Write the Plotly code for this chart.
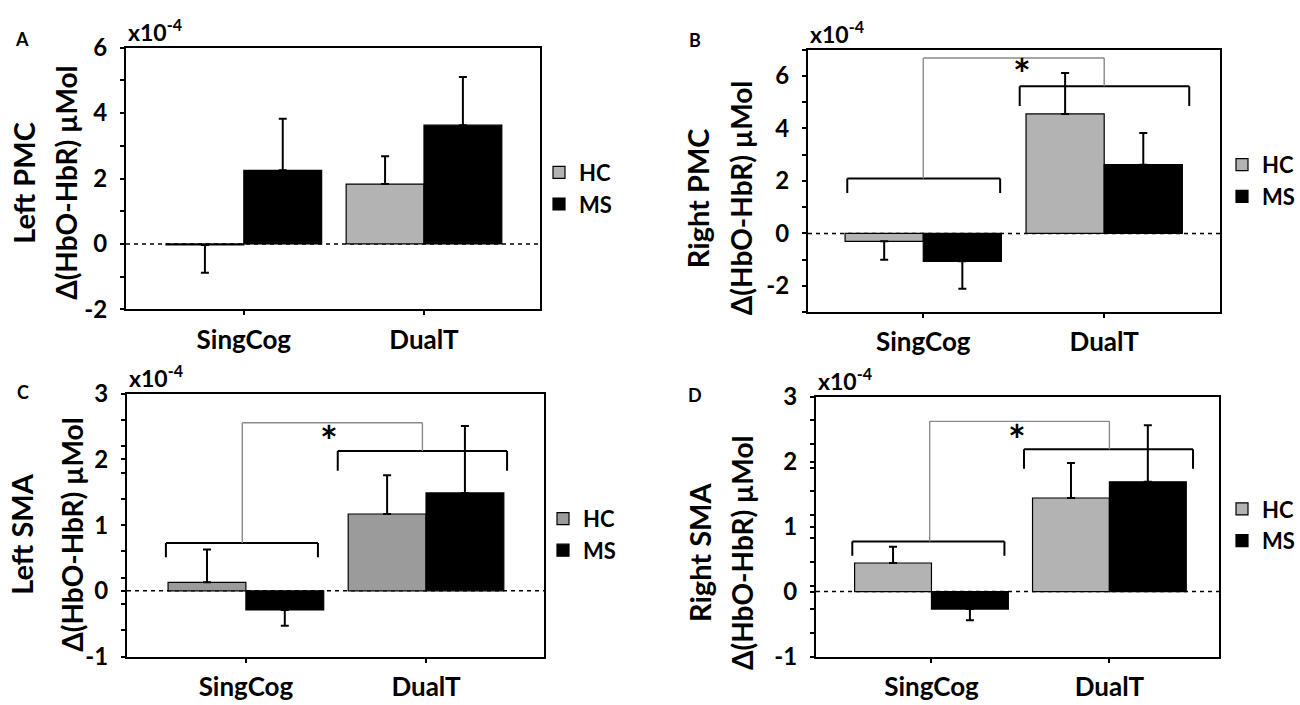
import plotly.graph_objects as go

# ---------------- data (units: x10^-4 µMol) ----------------
categories = ["SingCog", "DualT"]
group_names = ["HC", "MS"]

# Panel A – Left PMC
a_hc = [-0.03, 1.83]
a_hc_err = [0.85, 0.85]
a_ms = [2.25, 3.63]
a_ms_err = [1.58, 1.47]

# Panel B – Right PMC
b_hc = [-0.30, 4.55]
b_hc_err = [0.70, 1.56]
b_ms = [-1.06, 2.62]
b_ms_err = [1.04, 1.20]

# Panel C – Left SMA
c_hc = [0.13, 1.17]
c_hc_err = [0.50, 0.59]
c_ms = [-0.29, 1.49]
c_ms_err = [0.24, 1.02]

# Panel D – Right SMA
d_hc = [0.44, 1.44]
d_hc_err = [0.25, 0.54]
d_ms = [-0.27, 1.69]
d_ms_err = [0.17, 0.87]

a_yticks = [-2, 0, 2, 4, 6]
b_yticks = [-2, 0, 2, 4, 6]
c_yticks = [-1, 0, 1, 2, 3]
d_yticks = [-1, 0, 1, 2, 3]

# ---------------- layout helpers ----------------
W, H = 1300, 705
FONT = "Lato"


def fx(px):
    return px / W


def fy(py):
    return 1 - py / H


panels = [
    dict(letter="A", t1="Left PMC", hc=a_hc, hce=a_hc_err, ms=a_ms, mse=a_ms_err,
         yticks=a_yticks, yr=[-2, 6], minor=1, box=(126, 540, 33, 306), xr=[-0.654, 1.644],
         hc_col="#b3b3b3", leg=(539, 180, "left"), tx=(24, 66, 174), letter_xy=(22, 24),
         sig=None),
    dict(letter="B", t1="Right PMC", hc=b_hc, hce=b_hc_err, ms=b_ms, mse=b_ms_err,
         yticks=b_yticks, yr=[-3, 7], minor=1, box=(808, 1220, 35, 309), xr=[-0.637, 1.64],
         hc_col="#b3b3b3", leg=(1300, 172, "right"), tx=(697, 741, 190), letter_xy=(695, 25),
         sig=dict(lb=(-0.42, 0.425, 2.09, 1.54), rb=(0.533, 1.47, 5.6, 4.85),
                  cx=(0.0, 1.0), ctop=6.68, star=(0.547, 6.3))),
    dict(letter="C", t1="Left SMA", hc=c_hc, hce=c_hc_err, ms=c_ms, mse=c_ms_err,
         yticks=c_yticks, yr=[-1, 3], minor=0.4, box=(127, 544, 394, 668), xr=[-0.66, 1.655],
         hc_col="#9b9b9b", leg=(543, 541, "left"), tx=(22, 72, 541), letter_xy=(23, 392),
         sig=dict(lb=(-0.444, 0.40, 0.73, 0.51), rb=(0.51, 1.45, 2.13, 1.83),
                  cx=(-0.02, 0.98), ctop=2.56, star=(0.463, 2.37))),
    dict(letter="D", t1="Right SMA", hc=d_hc, hce=d_hc_err, ms=d_ms, mse=d_ms_err,
         yticks=d_yticks, yr=[-1, 3], minor=4 / 11, box=(816, 1219, 397, 668), xr=[-0.649, 1.616],
         hc_col="#b3b3b3", leg=(1300, 531, "right"), tx=(700, 742, 560), letter_xy=(695, 395),
         sig=dict(lb=(-0.445, 0.41, 0.77, 0.55), rb=(0.52, 1.47, 2.19, 1.89),
                  cx=(-0.01, 1.0), ctop=2.62, star=(0.48, 2.42))),
]

fig = go.Figure()
shapes = []
annotations = []
layout_axes = {}


def err_arrays(vals, errs):
    up = [e if v >= 0 else 0 for v, e in zip(vals, errs)]
    down = [e if v < 0 else 0 for v, e in zip(vals, errs)]
    return up, down


for i, p in enumerate(panels):
    s = "" if i == 0 else str(i + 1)
    xa, ya = "x" + s, "y" + s
    leg = "legend" + s
    x0, x1, y0, y1 = p["box"]

    for name, vals, errs, col in [("HC", p["hc"], p["hce"], p["hc_col"]),
                                  ("MS", p["ms"], p["mse"], "#000000")]:
        up, down = err_arrays(vals, errs)
        fig.add_trace(go.Bar(
            x=categories, y=vals, name=name, xaxis=xa, yaxis=ya, legend=leg,
            marker=dict(color=col, line=dict(color="#000000", width=1.2)),
            error_y=dict(type="data", symmetric=False, array=up, arrayminus=down,
                         color="#000000", thickness=2, width=4),
            offsetgroup=name,
        ))

    layout_axes["xaxis" + s] = dict(
        domain=[fx(x0), fx(x1)], anchor=ya, type="category",
        categoryorder="array", categoryarray=categories, range=p["xr"],
        showline=True, mirror=True, linecolor="#000000", linewidth=2,
        ticks="outside", ticklen=4, tickwidth=1.5, tickcolor="#000000",
        tickfont=dict(family=FONT, size=26, color="#000000", weight="bold"),
        ticklabelstandoff=2, showgrid=False, zeroline=False, fixedrange=True,
    )
    layout_axes["yaxis" + s] = dict(
        domain=[fy(y1), fy(y0)], anchor=xa, range=p["yr"],
        tickmode="array", tickvals=p["yticks"], ticktext=[str(t) for t in p["yticks"]],
        showline=True, mirror=True, linecolor="#000000", linewidth=2,
        ticks="outside", ticklen=4, tickwidth=1.5, tickcolor="#000000",
        minor=dict(tickmode="linear", tick0=p["yr"][0], dtick=p["minor"], ticks="outside",
                   ticklen=4, tickwidth=1.5, tickcolor="#000000"),
        tickfont=dict(family=FONT, size=24, color="#000000", weight="bold"),
        ticklabelstandoff=8, showgrid=False, zeroline=False, fixedrange=True,
    )

    lx, lyc, lanchor = p["leg"]
    fig.update_layout(**{leg: dict(
        x=fx(lx), y=fy(lyc), xanchor=lanchor, yanchor="middle",
        font=dict(family=FONT, size=22, color="#000000", weight="bold"),
        bgcolor="rgba(0,0,0,0)", tracegroupgap=0, itemwidth=30,
    )})

    # dashed zero line
    shapes.append(dict(type="line", xref=xa + " domain", yref=ya, x0=0, x1=1, y0=0, y1=0,
                       line=dict(color="#000000", width=1.5, dash="4px,4px"), layer="below"))

    # significance brackets
    sig = p["sig"]
    if sig:
        def seg(xs0, ys0, xs1, ys1, col, w):
            shapes.append(dict(type="line", xref=xa, yref=ya, x0=xs0, y0=ys0, x1=xs1, y1=ys1,
                               line=dict(color=col, width=w), layer="above"))
        for (bx0, bx1, btop, bleg) in (sig["lb"], sig["rb"]):
            seg(bx0, bleg, bx0, btop, "#000000", 2)
            seg(bx0, btop, bx1, btop, "#000000", 2)
            seg(bx1, btop, bx1, bleg, "#000000", 2)
        cxl, cxr = sig["cx"]
        seg(cxl, sig["lb"][2], cxl, sig["ctop"], "#8a8a8a", 1.4)
        seg(cxl, sig["ctop"], cxr, sig["ctop"], "#8a8a8a", 1.4)
        seg(cxr, sig["ctop"], cxr, sig["rb"][2], "#8a8a8a", 1.4)
        sx, sy = sig["star"]
        annotations.append(dict(xref=xa, yref=ya, x=sx, y=sy, text="*", showarrow=False,
                                font=dict(family=FONT, size=42, color="#000000", weight="bold"),
                                xanchor="center", yanchor="middle", yshift=-6))

    # x10^-4 multiplier
    annotations.append(dict(xref=xa + " domain", yref=ya + " domain", x=0, y=1,
                            xanchor="left", yanchor="bottom", yshift=0, showarrow=False,
                            text="x10<sup>-4</sup>",
                            font=dict(family=FONT, size=23, color="#000000", weight="bold")))

    # y-axis titles (two lines)
    t1x, t2x, tyc = p["tx"]
    annotations.append(dict(xref="paper", yref="paper", x=fx(t1x), y=fy(tyc), text=p["t1"],
                            textangle=-90, showarrow=False, xanchor="center", yanchor="middle",
                            font=dict(family=FONT, size=29, color="#000000", weight="bold")))
    annotations.append(dict(xref="paper", yref="paper", x=fx(t2x), y=fy(tyc),
                            text="Δ(HbO-HbR) µMol",
                            textangle=-90, showarrow=False, xanchor="center", yanchor="middle",
                            font=dict(family=FONT, size=28, color="#000000", weight="bold")))

    # panel letter
    lxp, lyp = p["letter_xy"]
    annotations.append(dict(xref="paper", yref="paper", x=fx(lxp), y=fy(lyp), text=p["letter"],
                            showarrow=False, xanchor="center", yanchor="middle",
                            font=dict(family=FONT, size=18, color="#000000", weight="bold")))

fig.update_layout(
    width=W, height=H, margin=dict(l=0, r=0, t=0, b=0),
    paper_bgcolor="#ffffff", plot_bgcolor="#ffffff",
    barmode="group", bargap=0.136, bargroupgap=0,
    shapes=shapes, annotations=annotations,
    font=dict(family=FONT, color="#000000"),
    **layout_axes,
)

fig.write_html("out.html",
               config={"displayModeBar": False},
               post_script="document.body.style.margin='0';document.body.style.overflow='hidden';")
